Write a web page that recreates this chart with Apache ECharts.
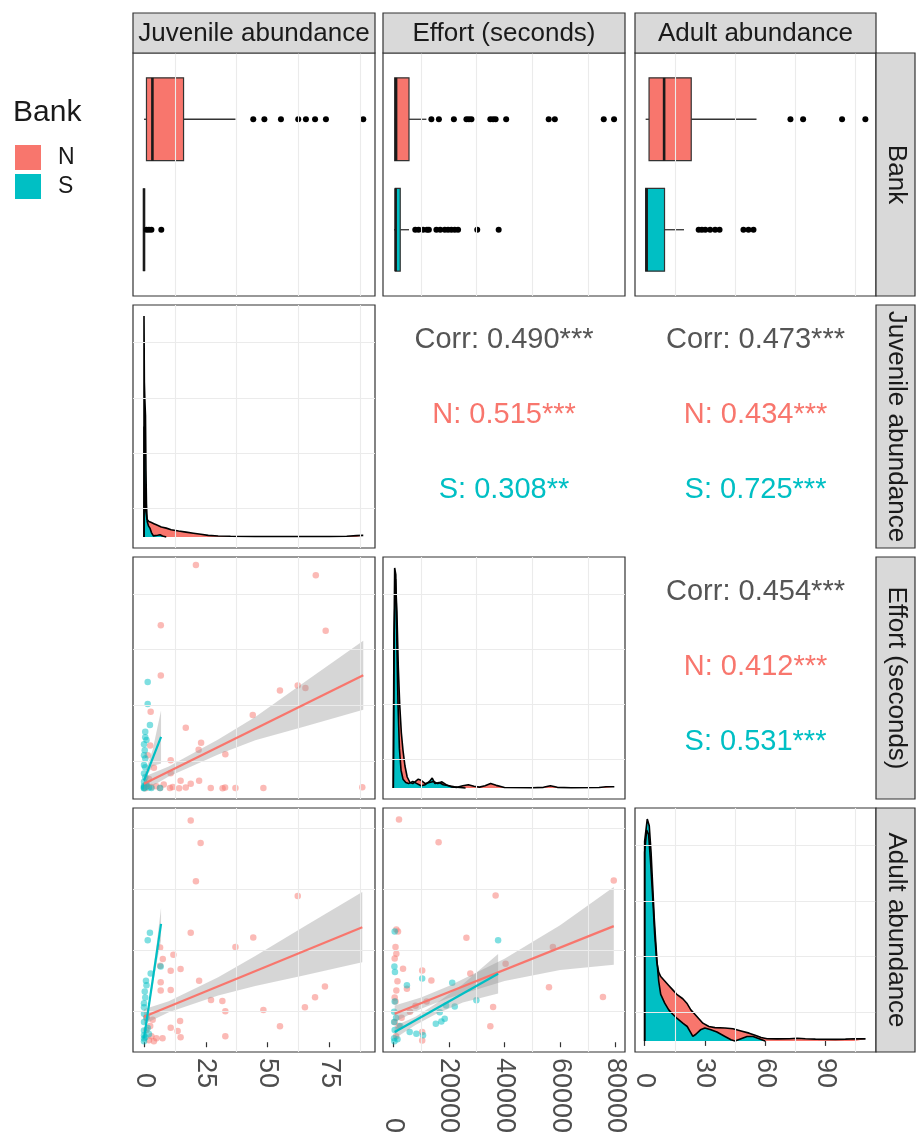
<!DOCTYPE html>
<html>
<head>
<meta charset="utf-8">
<script src="https://cdn.jsdelivr.net/npm/echarts@6.0.0/dist/echarts.min.js"></script>
<style>
  html, body { margin: 0; padding: 0; background: #fff; }
  #chart { width: 917px; height: 1136px; }
</style>
</head>
<body>
<div id="chart"></div>
<script>
// ---- data ----
const variables = ['Juvenile abundance', 'Effort (seconds)', 'Adult abundance']
const banks = ['N', 'S']

const juvTicks = [0, 25, 50, 75]
const effTicks = [0, 20000, 40000, 60000, 80000]
const adultTicks = [0, 30, 60, 90]
const juvGrid = [12.5, 37.5, 62.5, 87.5]
const effGrid = [10000, 30000, 50000, 70000]
const adultGrid = [15, 45, 75, 105]
const densGrid = [0.125, 0.375, 0.625, 0.875]

// boxplot stats: [lower whisker, q1, median, q3, upper whisker]
const juvBoxN = [0, 1, 3.4, 16, 37]
const juvOutN = [44.2, 48.7, 55.4, 62.4, 65.5, 69.2, 73.6, 88.7]
const juvBoxS = [0, 0, 0, 0, 0]
const juvOutS = [1, 2, 3, 7]
const effBoxN = [300, 500, 1000, 5650, 11900]
const effOutN = [13700, 16400, 21800, 26300, 27200, 28100, 34900, 35900, 36800, 40600, 55900, 58100, 75700, 79400]
const effBoxS = [300, 720, 850, 2500, 5650]
const effOutS = [7900, 9100, 10700, 12100, 12800, 15500, 16900, 18500, 19700, 20900, 22100, 23300, 30200, 37900]
const adultBoxN = [0.5, 2.2, 9.7, 23.2, 55.7]
const adultOutN = [72.6, 78.9, 98.3, 109.9]
const adultBoxS = [0.5, 0.5, 1, 9.9, 19.6]
const adultOutS = [26.9, 28.5, 30.2, 32.6, 35.1, 37.3, 49.2, 51.7, 54.2]

// densities, scaled so the tallest peak of the panel is 1
const juvDensN = [[0, 0], [0.05, 0.5], [0.3, 0.3], [0.7, 0.12], [1.2, 0.08], [2, 0.07], [3, 0.065], [4, 0.06], [5, 0.055], [7, 0.045], [9, 0.04], [11, 0.033], [14, 0.027], [17, 0.022], [20, 0.017], [23, 0.012], [26, 0.007], [30, 0.004], [35, 0.003], [45, 0.002], [55, 0.002], [65, 0.002], [75, 0.002], [82, 0.003], [86, 0.006], [88.7, 0.007]]
const juvDensS = [[0, 0], [0, 1.0], [0.15, 0.7], [0.35, 0.62], [0.6, 0.55], [0.8, 0.3], [1, 0.15], [1.3, 0.07], [1.8, 0.05], [2.4, 0.04], [3, 0.02], [3.8, 0.005], [4.5, 0], [5.5, 0.008], [6.5, 0.01], [7.5, 0.004], [9, 0]]
const effDensN = [[0, 0], [300, 0.7], [800, 0.95], [1300, 0.8], [1800, 0.55], [2300, 0.38], [2900, 0.25], [3500, 0.17], [4200, 0.1], [5000, 0.05], [6000, 0.025], [7000, 0.02], [8000, 0.03], [9000, 0.04], [10000, 0.035], [11500, 0.02], [13000, 0.025], [14500, 0.03], [16000, 0.02], [17500, 0.028], [19000, 0.015], [21000, 0.005], [23000, 0.003], [25000, 0.01], [27000, 0.015], [29000, 0.008], [31000, 0.004], [33000, 0.01], [35000, 0.02], [37000, 0.012], [40000, 0.002], [50000, 0.001], [54000, 0.003], [56500, 0.01], [59000, 0.003], [64000, 0.001], [74000, 0.002], [76500, 0.006], [79500, 0.006]]
const effDensS = [[0, 0], [200, 0.6], [500, 1.0], [900, 0.97], [1300, 0.65], [1700, 0.38], [2200, 0.18], [2800, 0.08], [3500, 0.04], [4500, 0.025], [5500, 0.02], [7000, 0.03], [8500, 0.02], [10000, 0.01], [11500, 0.015], [13000, 0.03], [14000, 0.045], [15000, 0.02], [16500, 0.025], [18000, 0.015], [20000, 0.01], [22000, 0.005], [24000, 0.002], [26000, 0]]
const adultDensN = [[0, 0], [0, 0.85], [1, 0.95], [2, 0.93], [3, 0.8], [4, 0.65], [5, 0.48], [6, 0.36], [7, 0.31], [8, 0.29], [10, 0.27], [12, 0.25], [14, 0.23], [16, 0.21], [19, 0.19], [21, 0.17], [23, 0.14], [25, 0.12], [27, 0.1], [29, 0.08], [32, 0.065], [35, 0.06], [40, 0.058], [44, 0.055], [48, 0.045], [52, 0.035], [55, 0.025], [58, 0.015], [61, 0.01], [66, 0.009], [72, 0.01], [76, 0.012], [80, 0.01], [85, 0.008], [95, 0.007], [100, 0.008], [105, 0.01], [110, 0.009]]
const adultDensS = [[0, 0], [0, 0.9], [1.3, 1.0], [2.3, 0.97], [3.2, 0.85], [4, 0.7], [4.8, 0.55], [5.5, 0.45], [6.3, 0.34], [7, 0.27], [8, 0.21], [10, 0.17], [12, 0.14], [14, 0.12], [16.3, 0.1], [19, 0.08], [21.2, 0.065], [22.8, 0.04], [24, 0.02], [25.5, 0.03], [27.8, 0.05], [30, 0.058], [33, 0.05], [36, 0.04], [40, 0.02], [43, 0.005], [45, 0], [48, 0.01], [51, 0.02], [54, 0.02], [57, 0.01], [60, 0]]

// scatter: juvenile (x) vs effort (y)
const juvEffN = [[21, 80500], [69.5, 76800], [6.8, 58800], [73.5, 56800], [6.8, 40700], [2.7, 27700], [55, 35300], [62.2, 37100], [65.3, 36200], [44, 26500], [16.9, 21900], [23.1, 16500], [22.1, 14000], [32.9, 12400], [10.8, 10200], [10.8, 5600], [14.8, 2900], [22.3, 2900], [18.9, 1800], [10.5, 300], [11.6, 600], [14.2, 200], [16.9, 400], [27, 300], [31.8, 200], [32.8, 400], [37, 300], [48.3, 300], [88.3, 500], [1, 1200], [2, 3500], [3, 600], [0.5, 200], [4, 7500], [1.5, 12000], [5, 900], [2.5, 15500], [6.5, 300], [8, 1500]]
const juvEffS = [[1.5, 38400], [1.5, 30500], [2.4, 22900], [0.5, 20500], [1, 17500], [0.3, 13800], [0.5, 10900], [0.5, 7750], [0.5, 4100], [1, 1800], [2, 400], [0, 600], [0, 1000], [0, 2500], [0, 5500], [0, 8500], [0, 12000], [1, 900], [3, 300], [6.5, 300], [0, 16000], [0.5, 18500], [0, 300], [0, 200]]
const juvEffFitN = [[0, 1800], [88.7, 40800]]
const juvEffBandN = [[0, -700, 4300], [10, 4400, 8000], [30, 12300, 17700], [45, 17400, 25800], [65, 22400, 38400], [88.7, 28400, 53200]]
const juvEffFitS = [[0, 2900], [6.9, 18650]]
const juvEffBandS = [[0, 1200, 4600], [1.5, 5000, 8500], [3.5, 8200, 14000], [6.9, 9100, 28100]]

// scatter: juvenile (x) vs adult (y)
const juvAdultN = [[18.9, 109.1], [22.9, 98], [21, 79.2], [62.2, 71.9], [18.9, 53.8], [44.2, 51.5], [37, 46.9], [6.5, 46.6], [11.9, 43], [7.6, 40.9], [6.5, 37.6], [10.8, 35.2], [14.8, 36], [22.3, 30.3], [6.75, 25.4], [10.8, 25.7], [27.1, 20.8], [31.7, 20.3], [73.2, 27.4], [69.2, 22.1], [65.1, 17.2], [48.3, 15.9], [32.9, 15.3], [55, 7.9], [14.6, 10.4], [10.8, 7.1], [13.6, 5.5], [14.8, 2.5], [32.9, 2.9], [6.75, 29.5], [2, 1], [3, 3], [1, 6], [4, 0.5], [5, 2], [2.5, 8], [1, 12], [3.5, 11], [7.5, 2]]
const juvAdultS = [[2.4, 53.9], [1.5, 50.2], [6.75, 37.3], [2.7, 33.8], [0.8, 30.3], [1, 28], [0, 19.2], [0, 17.2], [0, 14], [0, 9.9], [0, 5.8], [0, 3.4], [0, 1.8], [0.5, 22], [1, 12], [1.5, 7], [0, 0.5], [0.5, 2.5], [2, 4], [0.3, 25]]
const juvAdultFitN = [[0, 12.5], [88.3, 56.6]]
const juvAdultBandN = [[0, 8.8, 16.2], [10, 14.8, 20.2], [30, 23, 32], [45, 27.6, 42.4], [65, 33, 57], [88.3, 39.3, 73.9]]
const juvAdultFitS = [[0, 1.9], [6.9, 58.2]]
const juvAdultBandS = [[0, -0.3, 4.1], [1, 8.6, 12], [3, 24, 28.8], [5, 38.3, 47], [6.9, 50.2, 66.2]]

// scatter: effort (x) vs adult (y)
const effAdultN = [[2050, 109.6], [16300, 98.4], [36800, 72.2], [79300, 79.6], [26300, 51.4], [57400, 46.8], [40400, 38.6], [56000, 27.1], [75400, 22.2], [35900, 17.3], [34900, 7.9], [27700, 33.8], [10400, 35.3], [13700, 30.4], [1100, 55.5], [1700, 54.5], [800, 46.8], [1100, 43.5], [500, 41.2], [3500, 36.2], [1100, 25.5], [500, 22], [800, 20], [4900, 26.3], [10400, 5], [10400, 0.9], [3000, 12], [2000, 8], [1000, 3], [6000, 15], [500, 10], [8000, 18], [1500, 30], [12000, 20]]
const effAdultS = [[500, 54.5], [37700, 50.1], [400, 37.3], [600, 34.5], [10400, 31.3], [4900, 28], [21200, 29.3], [29900, 20.6], [22100, 17.6], [19000, 18.1], [16700, 14.8], [18500, 11.6], [17300, 10.2], [15300, 9.1], [5900, 5], [8300, 4.2], [10700, 3.4], [500, 20], [300, 15], [300, 10], [500, 6], [300, 2], [400, 0.5], [1500, 1.5], [2500, 8], [1000, 12]]
const effAdultFitN = [[500, 14], [79300, 57.1]]
const effAdultBandN = [[500, 9.9, 18.1], [10000, 16.5, 22.0], [20000, 21.7, 27.7], [40000, 30.1, 41.1], [60000, 35.5, 57.5], [79300, 38.1, 76.3]]
const effAdultFitS = [[500, 5], [37700, 33.7]]
const effAdultBandS = [[500, 1.8, 8.0], [8000, 8.5, 12.5], [15000, 13.7, 18.7], [25000, 19.5, 28.5], [37700, 24, 43.4]]

const corrJuvEff = ['Corr: 0.490***', 'N: 0.515***', 'S: 0.308**']
const corrJuvAdult = ['Corr: 0.473***', 'N: 0.434***', 'S: 0.725***']
const corrEffAdult = ['Corr: 0.454***', 'N: 0.412***', 'S: 0.531***']

// ---- layout ----
const FONT = '"Liberation Sans", Arial, Helvetica, sans-serif'
const RED = '#F8766D'
const TEAL = '#00BFC4'
const colLeft = [133, 383, 635]
const colWidth = [242, 242, 241]
const rowTop = [53, 305, 557, 808]
const rowHeight = [243, 243, 242, 244]
const colRange = [[-4.45, 93.45], [-3700, 83340], [-4.8, 115.2]]
const colGridLines = [juvGrid, effGrid, adultGrid]
const colTicks = [juvTicks, effTicks, adultTicks]
const labelMargin = [36, 81, 36]

// 9 drawn panels of the pairs plot
const panels = [
  { row: 0, col: 0, kind: 'box' }, { row: 0, col: 1, kind: 'box' }, { row: 0, col: 2, kind: 'box' },
  { row: 1, col: 0, kind: 'dens' },
  { row: 2, col: 0, kind: 'xy' }, { row: 2, col: 1, kind: 'dens' },
  { row: 3, col: 0, kind: 'xy' }, { row: 3, col: 1, kind: 'xy' }, { row: 3, col: 2, kind: 'dens' }
]

const yRangeOf = p => {
  if (p.kind === 'box') return [0.4, 2.6]
  if (p.kind === 'dens') return [-0.05, 1.05]
  return colRange[p.row - 1]
}
const yGridOf = p => {
  if (p.kind === 'box') return []
  if (p.kind === 'dens') return densGrid
  return colGridLines[p.row - 1]
}

const grids = panels.map(p => ({
  left: colLeft[p.col], top: rowTop[p.row], width: colWidth[p.col], height: rowHeight[p.row],
  show: true, backgroundColor: '#fff', borderColor: '#333', borderWidth: 1.2,
  containLabel: false, outerBoundsMode: 'none'
}))

const xAxes = panels.map((p, i) => {
  const bottom = p.row === 3
  return {
    type: 'value', gridIndex: i, min: colRange[p.col][0], max: colRange[p.col][1],
    axisLine: { show: false }, splitLine: { show: false },
    axisTick: bottom
      ? { show: true, customValues: colTicks[p.col], length: 5, lineStyle: { color: '#333', width: 1.2 } }
      : { show: false },
    axisLabel: bottom
      ? {
          show: true, customValues: colTicks[p.col], rotate: -90, align: 'right', verticalAlign: 'middle',
          margin: labelMargin[p.col], fontSize: 27, color: '#4d4d4d', fontFamily: FONT, hideOverlap: false,
          formatter: v => String(v)
        }
      : { show: false }
  }
})

const yAxes = panels.map((p, i) => {
  const r = yRangeOf(p)
  return {
    type: 'value', gridIndex: i, min: r[0], max: r[1], inverse: p.kind === 'box',
    axisLine: { show: false }, axisTick: { show: false }, axisLabel: { show: false }, splitLine: { show: false }
  }
})

// ---- series helpers ----
const gridLineSeries = (gi, xs, ys) => ({
  type: 'line', data: [], xAxisIndex: gi, yAxisIndex: gi, silent: true, z: 1,
  markLine: {
    silent: true, symbol: ['none', 'none'], animation: false, label: { show: false },
    lineStyle: { color: '#ebebeb', width: 1.1, type: 'solid' },
    emphasis: { disabled: true },
    data: [...xs.map(v => ({ xAxis: v })), ...ys.map(v => ({ yAxis: v }))]
  }
})

const boxRenderer = fill => (params, api) => {
  const cat = api.value(0)
  const yA = api.coord([0, cat - 0.375])[1]
  const yB = api.coord([0, cat + 0.375])[1]
  const yc = api.coord([0, cat])[1]
  const xs = [1, 2, 3, 4, 5].map(k => api.coord([api.value(k), cat])[0])
  const top = Math.min(yA, yB)
  const h = Math.abs(yB - yA)
  return {
    type: 'group',
    children: [
      { type: 'line', shape: { x1: xs[0], y1: yc, x2: xs[1], y2: yc }, style: { stroke: '#333', lineWidth: 1.3 } },
      { type: 'line', shape: { x1: xs[3], y1: yc, x2: xs[4], y2: yc }, style: { stroke: '#333', lineWidth: 1.3 } },
      { type: 'rect', shape: { x: xs[1], y: top, width: xs[3] - xs[1], height: h }, style: { fill, stroke: '#333', lineWidth: 1.2 } },
      { type: 'line', shape: { x1: xs[2], y1: top, x2: xs[2], y2: top + h }, style: { stroke: '#1a1a1a', lineWidth: 2.6 } }
    ]
  }
}

const boxSeries = (gi, cat, stats, fill, name) => ({
  type: 'custom', name, xAxisIndex: gi, yAxisIndex: gi, silent: true, z: 3,
  renderItem: boxRenderer(fill), data: [[cat, ...stats]], encode: { x: [1, 2, 3, 4, 5], y: 0 }
})

const outlierSeries = (gi, cat, values) => ({
  type: 'scatter', name: 'outlier', xAxisIndex: gi, yAxisIndex: gi, silent: true, z: 4,
  data: values.map(v => [v, cat]), symbolSize: 6, itemStyle: { color: '#000', opacity: 1 }
})

const densSeries = (gi, pts, fill, name) => ({
  type: 'line', name, xAxisIndex: gi, yAxisIndex: gi, silent: true, z: 3,
  data: pts, symbol: 'none', showSymbol: false,
  lineStyle: { color: '#000', width: 1.6 }, areaStyle: { color: fill, opacity: 1 }, itemStyle: { color: fill }
})

const pointSeries = (gi, pts, fill, name) => ({
  type: 'scatter', name, xAxisIndex: gi, yAxisIndex: gi, silent: true, z: 3,
  data: pts, symbolSize: 6.5, itemStyle: { color: fill, opacity: 0.5 }
})

const bandSeries = (gi, band) => ({
  type: 'custom', name: 'band', xAxisIndex: gi, yAxisIndex: gi, silent: true, z: 4,
  data: band, encode: { x: 0, y: [1, 2] },
  renderItem: (params, api) => {
    if (params.dataIndex !== 0) return null
    const upper = band.map(d => api.coord([d[0], d[2]]))
    const lower = band.slice().reverse().map(d => api.coord([d[0], d[1]]))
    return { type: 'polygon', shape: { points: upper.concat(lower) }, style: { fill: 'rgba(153,153,153,0.4)' } }
  }
})

const fitSeries = (gi, pts, color, name) => ({
  type: 'line', name, xAxisIndex: gi, yAxisIndex: gi, silent: true, z: 5,
  data: pts, symbol: 'none', showSymbol: false, lineStyle: { color, width: 2.2 }, itemStyle: { color }
})

const series = []
// boxes first so the legend picks them up
series.push(boxSeries(0, 1, juvBoxN, RED, 'N'), boxSeries(0, 2, juvBoxS, TEAL, 'S'))
series.push(boxSeries(1, 1, effBoxN, RED, 'N'), boxSeries(1, 2, effBoxS, TEAL, 'S'))
series.push(boxSeries(2, 1, adultBoxN, RED, 'N'), boxSeries(2, 2, adultBoxS, TEAL, 'S'))
series.push(outlierSeries(0, 1, juvOutN), outlierSeries(0, 2, juvOutS))
series.push(outlierSeries(1, 1, effOutN), outlierSeries(1, 2, effOutS))
series.push(outlierSeries(2, 1, adultOutN), outlierSeries(2, 2, adultOutS))

panels.forEach((p, i) => series.push(gridLineSeries(i, colGridLines[p.col], yGridOf(p))))

series.push(densSeries(3, juvDensN, RED, 'N'), densSeries(3, juvDensS, TEAL, 'S'))
series.push(densSeries(5, effDensN, RED, 'N'), densSeries(5, effDensS, TEAL, 'S'))
series.push(densSeries(8, adultDensN, RED, 'N'), densSeries(8, adultDensS, TEAL, 'S'))

series.push(pointSeries(4, juvEffN, RED, 'N'), pointSeries(4, juvEffS, TEAL, 'S'))
series.push(bandSeries(4, juvEffBandN), fitSeries(4, juvEffFitN, RED, 'N'))
series.push(bandSeries(4, juvEffBandS), fitSeries(4, juvEffFitS, TEAL, 'S'))

series.push(pointSeries(6, juvAdultN, RED, 'N'), pointSeries(6, juvAdultS, TEAL, 'S'))
series.push(bandSeries(6, juvAdultBandN), fitSeries(6, juvAdultFitN, RED, 'N'))
series.push(bandSeries(6, juvAdultBandS), fitSeries(6, juvAdultFitS, TEAL, 'S'))

series.push(pointSeries(7, effAdultN, RED, 'N'), pointSeries(7, effAdultS, TEAL, 'S'))
series.push(bandSeries(7, effAdultBandN), fitSeries(7, effAdultFitN, RED, 'N'))
series.push(bandSeries(7, effAdultBandS), fitSeries(7, effAdultFitS, TEAL, 'S'))

// ---- strips and correlation text ----
const graphics = []
const textStyle = (text, size, fill) => ({
  text, fontSize: size, fontFamily: FONT, fill,
  align: 'center', verticalAlign: 'middle', textAlign: 'center', textVerticalAlign: 'middle'
})

variables.forEach((v, c) => {
  graphics.push({ type: 'rect', z: 10, shape: { x: colLeft[c], y: 13, width: colWidth[c], height: 40 }, style: { fill: '#d9d9d9', stroke: '#333', lineWidth: 1.2 } })
  graphics.push({ type: 'text', z: 11, x: colLeft[c] + colWidth[c] / 2, y: 34, style: textStyle(v, 26, '#1a1a1a') })
})

;['Bank', ...variables].forEach((v, r) => {
  graphics.push({ type: 'rect', z: 10, shape: { x: 876, y: rowTop[r], width: 39, height: rowHeight[r] }, style: { fill: '#d9d9d9', stroke: '#333', lineWidth: 1.2 } })
  graphics.push({ type: 'text', z: 11, x: 896, y: rowTop[r] + rowHeight[r] / 2, rotation: -Math.PI / 2, style: textStyle(v, 26, '#1a1a1a') })
})

const corrColors = ['#555555', RED, TEAL]
const corrOffsets = [35, 110, 185]
const corrCells = [
  { row: 1, col: 1, lines: corrJuvEff },
  { row: 1, col: 2, lines: corrJuvAdult },
  { row: 2, col: 2, lines: corrEffAdult }
]
corrCells.forEach(cell => {
  cell.lines.forEach((t, k) => {
    graphics.push({
      type: 'text', z: 11,
      x: colLeft[cell.col] + colWidth[cell.col] / 2, y: rowTop[cell.row] + corrOffsets[k],
      style: textStyle(t, 29, corrColors[k])
    })
  })
})

const chart = echarts.init(document.getElementById('chart'), null, { renderer: 'canvas' })
chart.setOption({
  animation: false,
  backgroundColor: '#fff',
  textStyle: { fontFamily: FONT },
  title: {
    text: 'Bank', left: 13, top: 98, padding: 0,
    textStyle: { fontSize: 30, fontWeight: 'normal', color: '#1a1a1a', fontFamily: FONT }
  },
  legend: {
    orient: 'vertical', left: 15, top: 145, padding: 0,
    itemWidth: 26, itemHeight: 25, itemGap: 4, selectedMode: false,
    data: banks.map((b, k) => ({ name: b, icon: 'rect', itemStyle: { color: [RED, TEAL][k], opacity: 1, borderWidth: 0 } })),
    textStyle: { fontSize: 23, color: '#1a1a1a', fontFamily: FONT, padding: [0, 0, 0, 12] }
  },
  grid: grids,
  xAxis: xAxes,
  yAxis: yAxes,
  series,
  graphic: graphics
})
</script>
</body>
</html>
